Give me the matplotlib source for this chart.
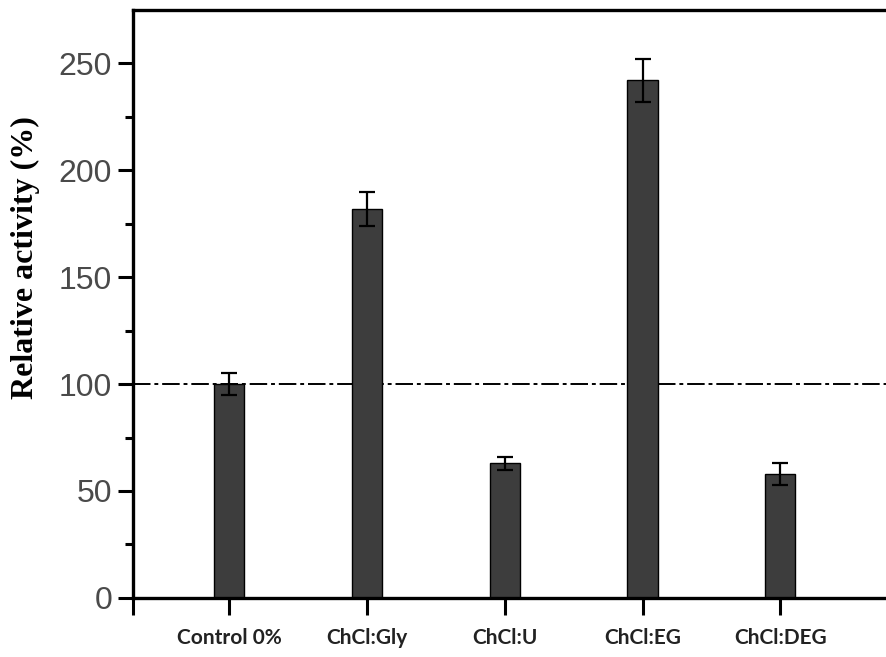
import numpy as np
import matplotlib
matplotlib.use("Agg")
import matplotlib.pyplot as plt

# relative activity of the enzyme in each deep eutectic solvent
solvents = ["Control 0%", "ChCl:Gly", "ChCl:U", "ChCl:EG", "ChCl:DEG"]
activity = [100, 182, 63, 242, 58]
activity_err = [5, 8, 3, 10, 5]
reference_level = 100

fig = plt.figure(figsize=(8.86, 6.57), dpi=100)
ax = fig.add_axes([0.150, 0.090, 0.852, 0.895])

x = np.arange(len(solvents))
ax.bar(x, activity, width=0.22, color="#3d3d3d", edgecolor="black", linewidth=1.0, zorder=2)
ax.errorbar(x, activity, yerr=activity_err, fmt="none", ecolor="black",
            elinewidth=1.6, capsize=5.5, capthick=1.6, zorder=3)

ax.axhline(reference_level, color="black", linewidth=1.4,
           dashes=(9, 2, 2, 2), zorder=1)

ax.set_xlim(-0.70, 4.78)
ax.set_ylim(0, 275)

ax.set_yticks([0, 50, 100, 150, 200, 250])
ax.set_yticks([25, 75, 125, 175, 225], minor=True)
ax.set_xticks(x)
ax.set_xticks([-0.70, 4.78], minor=True)
ax.set_xticklabels(solvents, fontsize=15, fontweight="bold",
                   family=["Lato", "DejaVu Sans"], color="#222222")

for lbl in ax.get_yticklabels():
    lbl.set_family(["Liberation Sans", "DejaVu Sans"])
    lbl.set_fontsize(23)
    lbl.set_color("#4a4a4a")

ax.tick_params(axis="y", which="major", direction="out", length=11, width=2.2, pad=4)
ax.tick_params(axis="y", which="minor", direction="out", length=6, width=2.2)
ax.tick_params(axis="x", which="both", direction="out", length=12, width=2.2, pad=10)

ax.spines["left"].set_linewidth(2.4)
ax.spines["bottom"].set_linewidth(2.4)
ax.spines["top"].set_linewidth(2.4)
ax.spines["right"].set_visible(False)

ax.set_ylabel("Relative activity (%)", fontsize=23, fontweight="bold",
              family=["Liberation Serif", "DejaVu Serif"])
ax.yaxis.set_label_coords(-0.123, 0.578)

fig.savefig("out.png", dpi=100)
